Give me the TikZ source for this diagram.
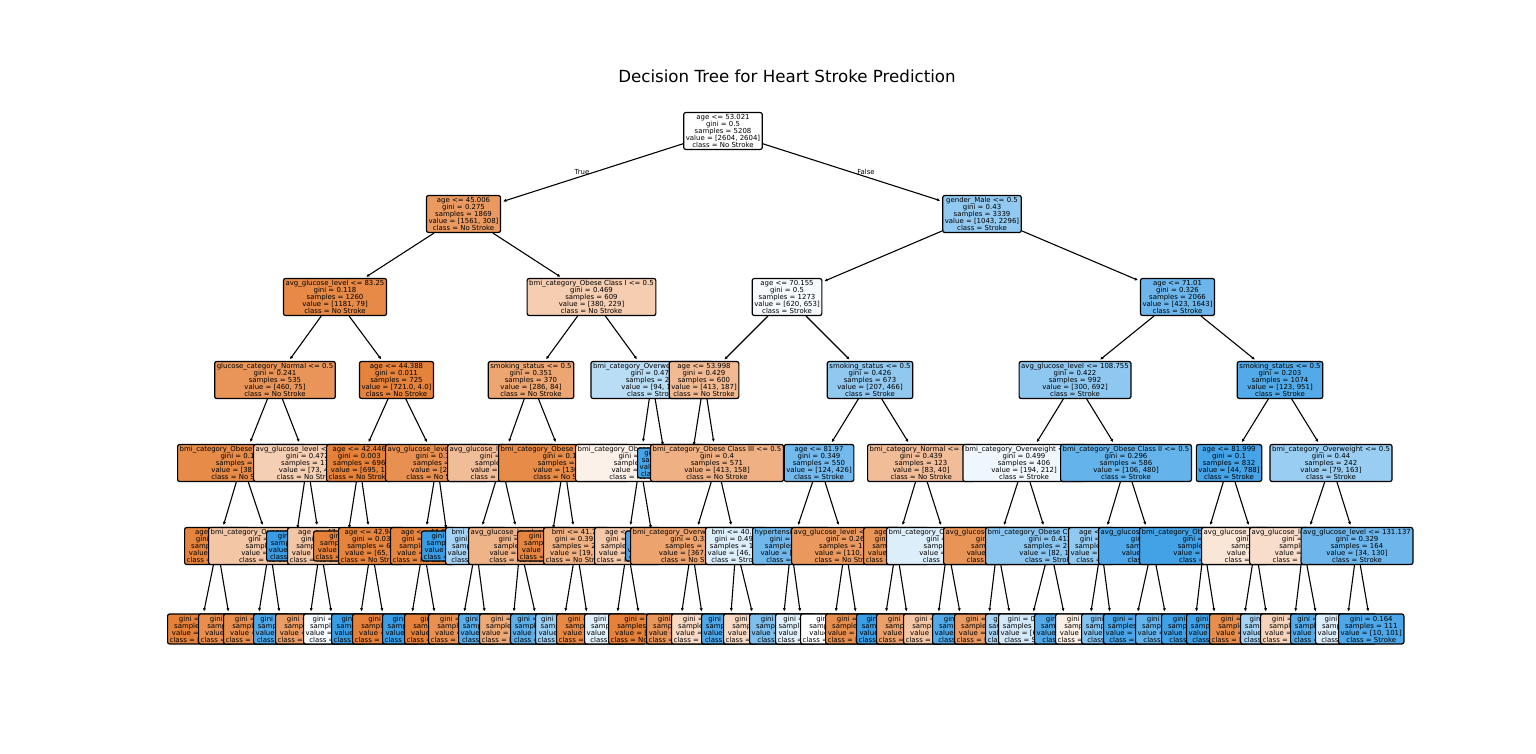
\documentclass[tikz,border=0pt]{standalone}
\usepackage{fontspec}
\setmainfont{DejaVu Sans}
\usetikzlibrary{arrows.meta}
\definecolor{cO}{RGB}{229,129,57}
\definecolor{cB}{RGB}{57,157,229}
% #1 name, #2 anchor, #3 x, #4 y, #5 fill, #6 text, #7 parent
\newcommand\TN[7]{\node[tn,fill=#5,anchor=#2] (#1) at (#3,#4) {#6}; \draw[arr] (#7) -- (#1);}
\begin{document}
\begin{tikzpicture}[x=1pt,y=-1pt,
  tn/.style={draw=black, line width=1.2pt, rounded corners=2pt, align=center,
    inner xsep=2.1pt, inner ysep=1.8pt, font=\fontsize{6.94}{7}\selectfont, text=black},
  arr/.style={line width=1.1pt, -{Latex[length=3.2pt,width=3.2pt]}, shorten >=2pt},
  lab/.style={font=\fontsize{6.94}{7}\selectfont, inner sep=0pt}]
\useasboundingbox[fill=white] (0,0) rectangle (1536,754);
\node[font=\fontsize{16.67}{20}\selectfont] (title) at (787,76) {Decision Tree for Heart Stroke Prediction};
% level 0
\node[tn,fill=white] (R) at (723,131) {age <= 53.021\\gini = 0.5\\samples = 5208\\value = [2604, 2604]\\class = No Stroke};
\node[lab] (tT) at (582,172) {True};
\node[lab] (tF) at (866,172) {False};
% ---- left subtree
\TN{A}{center}{463.5}{214}{cO!80}{age <= 45.006\\gini = 0.275\\samples = 1869\\value = [1561, 308]\\class = No Stroke}{R}
\TN{C1}{center}{335}{297}{cO!93}{avg\_glucose\_level <= 83.25\\gini = 0.118\\samples = 1260\\value = [1181, 79]\\class = No Stroke}{A}
\TN{D1}{center}{275}{380}{cO!84}{glucose\_category\_Normal <= 0.5\\gini = 0.241\\samples = 535\\value = [460, 75]\\class = No Stroke}{C1}
\TN{E1}{west}{177}{463}{cO!92}{bmi\_category\_Obese Class I <= 0.5\\gini = 0.134\\samples = 417\\value = [387, 30]\\class = No Stroke}{D1}
\TN{F1}{west}{184}{546}{cO!98}{age <= 38.5\\gini = 0.029\\samples = 342\\value = [337, 5]\\class = No Stroke}{E1}
\TN{G1}{west}{167}{629}{cO}{gini = 0.007\\samples = 301\\value = [300, 1]\\class = No Stroke}{F1}
\TN{G2}{west}{198}{629}{cO!89}{gini = 0.176\\samples = 41\\value = [37, 4]\\class = No Stroke}{F1}
\TN{F2}{west}{208}{546}{cO!45}{bmi\_category\_Overweight <= 0.5\\gini = 0.444\\samples = 75\\value = [50, 25]\\class = No Stroke}{E1}
\TN{G3}{west}{223}{629}{cO!89}{gini = 0.171\\samples = 53\\value = [48, 5]\\class = No Stroke}{F2}
\TN{G4}{west}{253}{629}{cB!90}{gini = 0.165\\samples = 22\\value = [2, 20]\\class = Stroke}{F2}
\TN{E2}{west}{253}{463}{cO!38}{avg\_glucose\_level <= 127.81\\gini = 0.472\\samples = 118\\value = [73, 45]\\class = No Stroke}{D1}
\TN{F3}{west}{266}{546}{cB}{gini = 0.0\\samples = 20\\value = [0, 20]\\class = Stroke}{E2}
\TN{F4}{west}{287}{546}{cO!45}{age <= 47.5\\gini = 0.38\\samples = 98\\value = [73, 25]\\class = No Stroke}{E2}
\TN{G5}{west}{275}{629}{cO!78}{gini = 0.297\\samples = 77\\value = [63, 14]\\class = No Stroke}{F4}
\TN{G6}{west}{303}{629}{cB!5}{gini = 0.499\\samples = 21\\value = [10, 11]\\class = Stroke}{F4}
\TN{D2}{center}{396.5}{380}{cO!99}{age <= 44.388\\gini = 0.011\\samples = 725\\value = [721.0, 4.0]\\class = No Stroke}{C1}
\TN{E3}{west}{326}{463}{cO}{age <= 42.446\\gini = 0.003\\samples = 696\\value = [695, 1]\\class = No Stroke}{D2}
\TN{F5}{west}{313}{546}{cO}{gini = 0.0\\samples = 630\\value = [630, 0]\\class = No Stroke}{E3}
\TN{F6}{west}{338}{546}{cO!98}{age <= 42.945\\gini = 0.03\\samples = 66\\value = [65, 1]\\class = No Stroke}{E3}
\TN{G7}{west}{331}{629}{cB}{gini = 0.0\\samples = 1\\value = [0, 1]\\class = Stroke}{F6}
\TN{G8}{west}{352}{629}{cO}{gini = 0.0\\samples = 65\\value = [65, 0]\\class = No Stroke}{F6}
\TN{E4}{west}{385}{463}{cO!88}{avg\_glucose\_level <= 84.52\\gini = 0.185\\samples = 29\\value = [26, 3]\\class = No Stroke}{D2}
\TN{F7}{west}{390}{546}{cO!96}{age <= 44.0\\gini = 0.071\\samples = 27\\value = [26, 1]\\class = No Stroke}{E4}
\TN{G9}{west}{382}{629}{cB}{gini = 0.0\\samples = 1\\value = [0, 1]\\class = Stroke}{F7}
\TN{G10}{west}{404}{629}{cO}{gini = 0.0\\samples = 26\\value = [26, 0]\\class = No Stroke}{F7}
\TN{F8}{west}{421}{546}{cB}{gini = 0.0\\samples = 2\\value = [0, 2]\\class = Stroke}{E4}
\TN{C2}{center}{591.5}{297}{cO!40}{bmi\_category\_Obese Class I <= 0.5\\gini = 0.469\\samples = 609\\value = [380, 229]\\class = No Stroke}{A}
\TN{D3}{center}{531}{380}{cO!71}{smoking\_status <= 0.5\\gini = 0.351\\samples = 370\\value = [286, 84]\\class = No Stroke}{C2}
\TN{E5}{west}{447}{463}{cO!52}{avg\_glucose\_level <= 103.45\\gini = 0.437\\samples = 230\\value = [156, 74]\\class = No Stroke}{D3}
\TN{F9}{west}{445}{546}{cB!45}{bmi <= 33.15\\gini = 0.467\\samples = 54\\value = [20, 34]\\class = Stroke}{E5}
\TN{G11}{west}{428}{629}{cO!87}{gini = 0.208\\samples = 17\\value = [15, 2]\\class = No Stroke}{F9}
\TN{G12}{west}{458}{629}{cB!84}{gini = 0.234\\samples = 37\\value = [5, 32]\\class = Stroke}{F9}
\TN{F10}{west}{468}{546}{cO!60}{avg\_glucose\_level <= 72.48\\gini = 0.351\\samples = 176\\value = [136, 40]\\class = No Stroke}{E5}
\TN{G13}{west}{479}{629}{cO!68}{gini = 0.271\\samples = 155\\value = [130, 25]\\class = No Stroke}{F10}
\TN{G14}{west}{510}{629}{cB!82}{gini = 0.408\\samples = 21\\value = [6, 15]\\class = Stroke}{F10}
\TN{E6}{west}{498}{463}{cO!92}{bmi\_category\_Obese Class II <= 0.5\\gini = 0.133\\samples = 140\\value = [130, 10]\\class = No Stroke}{D3}
\TN{F11}{west}{517}{546}{cO!97}{gini = 0.052\\samples = 114\\value = [111, 3]\\class = No Stroke}{E6}
\TN{F12}{west}{543}{546}{cO!63}{bmi <= 41.75\\gini = 0.393\\samples = 26\\value = [19, 7]\\class = No Stroke}{E6}
\TN{G15}{west}{535}{629}{cB!50}{gini = 0.444\\samples = 9\\value = [3, 6]\\class = Stroke}{F12}
\TN{G16}{west}{556}{629}{cO!94}{gini = 0.111\\samples = 17\\value = [16, 1]\\class = No Stroke}{F12}
\TN{D4}{center}{652}{380}{cB!35}{bmi\_category\_Overweight <= 0.5\\gini = 0.477\\samples = 239\\value = [94, 145]\\class = Stroke}{C2}
\TN{E7}{west}{575}{463}{cO!11}{bmi\_category\_Obese Class I <= 0.5\\gini = 0.498\\samples = 170\\value = [90, 80]\\class = No Stroke}{D4}
\TN{F13}{west}{594}{546}{cO!43}{age <= 49.5\\gini = 0.462\\samples = 138\\value = [88, 50]\\class = No Stroke}{E7}
\TN{G17}{west}{584}{629}{cB!15}{gini = 0.469\\samples = 80\\value = [30, 50]\\class = Stroke}{F13}
\TN{G18}{west}{608}{629}{cO}{gini = 0.0\\samples = 58\\value = [58, 0]\\class = No Stroke}{F13}
\TN{F14}{west}{625}{546}{cB!93}{gini = 0.117\\samples = 32\\value = [2, 30]\\class = Stroke}{E7}
\TN{E8}{west}{637}{463}{cB!94}{gini = 0.109\\samples = 69\\value = [4, 65]\\class = Stroke}{D4}
% ---- right subtree
\TN{B}{center}{982}{214}{cB!55}{gender\_Male <= 0.5\\gini = 0.43\\samples = 3339\\value = [1043, 2296]\\class = Stroke}{R}
\TN{C3}{center}{787}{297}{cB!5}{age <= 70.155\\gini = 0.5\\samples = 1273\\value = [620, 653]\\class = Stroke}{B}
\TN{D5}{center}{704}{380}{cO!55}{age <= 53.998\\gini = 0.429\\samples = 600\\value = [413, 187]\\class = No Stroke}{C3}
\TN{E9}{center}{691}{463}{cB}{gini = 0.0\\samples = 29\\value = [0, 29]\\class = Stroke}{D5}
\TN{E10}{center}{717}{463}{cO!62}{bmi\_category\_Obese Class III <= 0.5\\gini = 0.4\\samples = 571\\value = [413, 158]\\class = No Stroke}{D5}
\TN{F15}{west}{630}{546}{cO!73}{bmi\_category\_Overweight <= 0.5\\gini = 0.336\\samples = 467\\value = [367, 100]\\class = No Stroke}{E10}
\TN{G19}{west}{646}{629}{cO!83}{gini = 0.245\\samples = 350\\value = [300, 50]\\class = No Stroke}{F15}
\TN{G20}{west}{671}{629}{cO!30}{gini = 0.489\\samples = 117\\value = [67, 50]\\class = No Stroke}{F15}
\TN{F16}{west}{705}{546}{cB!17}{bmi <= 40.05\\gini = 0.493\\samples = 104\\value = [46, 58]\\class = Stroke}{E10}
\TN{G21}{west}{701}{629}{cB!90}{gini = 0.198\\samples = 45\\value = [5, 40]\\class = Stroke}{F16}
\TN{G22}{west}{723}{629}{cO!30}{gini = 0.424\\samples = 59\\value = [41, 18]\\class = No Stroke}{F16}
\TN{D6}{center}{870}{380}{cB!56}{smoking\_status <= 0.5\\gini = 0.426\\samples = 673\\value = [207, 466]\\class = Stroke}{C3}
\TN{E11}{center}{819}{463}{cB!71}{age <= 81.97\\gini = 0.349\\samples = 550\\value = [124, 426]\\class = Stroke}{D6}
\TN{F17}{west}{752}{546}{cB!72}{hypertension <= 0.5\\gini = 0.064\\samples = 420\\value = [14, 406]\\class = Stroke}{E11}
\TN{G23}{west}{749}{629}{cB!65}{gini = 0.355\\samples = 130\\value = [30, 100]\\class = Stroke}{F17}
\TN{G24}{west}{775}{629}{cB!15}{gini = 0.48\\samples = 10\\value = [4, 6]\\class = Stroke}{F17}
\TN{F18}{west}{791}{546}{cO!82}{avg\_glucose\_level <= 146.73\\gini = 0.26\\samples = 130\\value = [110, 20]\\class = No Stroke}{E11}
\TN{G25}{west}{800}{629}{white}{gini = 0.5\\samples = 16\\value = [8, 8]\\class = No Stroke}{F18}
\TN{G26}{west}{825}{629}{cO!90}{gini = 0.188\\samples = 114\\value = [102, 12]\\class = No Stroke}{F18}
\TN{E12}{west}{867}{463}{cO!52}{bmi\_category\_Normal <= 0.5\\gini = 0.439\\samples = 123\\value = [83, 40]\\class = No Stroke}{D6}
\TN{F19}{west}{863}{546}{cO!85}{age <= 62.5\\gini = 0.252\\samples = 68\\value = [58, 10]\\class = No Stroke}{E12}
\TN{G27}{west}{856}{629}{cB}{gini = 0.0\\samples = 5\\value = [0, 5]\\class = Stroke}{F19}
\TN{G28}{west}{876}{629}{cO!75}{gini = 0.147\\samples = 63\\value = [58, 5]\\class = No Stroke}{F19}
\TN{F20}{west}{886}{546}{cB!17}{bmi\_category\_Overweight <= 0.5\\gini = 0.496\\samples = 55\\value = [25, 30]\\class = Stroke}{E12}
\TN{G29}{west}{903}{629}{cO!45}{gini = 0.454\\samples = 23\\value = [15, 8]\\class = No Stroke}{F20}
\TN{G30}{west}{932}{629}{cB!88}{gini = 0.43\\samples = 32\\value = [10, 22]\\class = Stroke}{F20}
\TN{C4}{center}{1177.5}{297}{cB!74}{age <= 71.01\\gini = 0.326\\samples = 2066\\value = [423, 1643]\\class = Stroke}{B}
\TN{D7}{center}{1075}{380}{cB!57}{avg\_glucose\_level <= 108.755\\gini = 0.422\\samples = 992\\value = [300, 692]\\class = Stroke}{C4}
\TN{E13}{center}{1024}{463}{cB!8}{bmi\_category\_Overweight <= 0.5\\gini = 0.499\\samples = 406\\value = [194, 212]\\class = Stroke}{D7}
\TN{F21}{west}{943}{546}{cO!85}{avg\_glucose\_level <= 100.32\\gini = 0.187\\samples = 125\\value = [112, 13]\\class = No Stroke}{E13}
\TN{G31}{west}{954}{629}{cO!80}{gini = 0.083\\samples = 115\\value = [110, 5]\\class = No Stroke}{F21}
\TN{G32}{west}{985}{629}{cB!45}{gini = 0.32\\samples = 10\\value = [2, 8]\\class = Stroke}{F21}
\TN{F22}{west}{985}{546}{cB!59}{bmi\_category\_Obese Class I <= 0.5\\gini = 0.413\\samples = 281\\value = [82, 199]\\class = Stroke}{E13}
\TN{G33}{west}{998}{629}{cB!22}{gini = 0.494\\samples = 135\\value = [60, 75]\\class = Stroke}{F22}
\TN{G34}{west}{1034}{629}{cB!88}{gini = 0.256\\samples = 146\\value = [22, 124]\\class = Stroke}{F22}
\TN{E14}{center}{1126}{463}{cB!78}{bmi\_category\_Obese Class II <= 0.5\\gini = 0.296\\samples = 586\\value = [106, 480]\\class = Stroke}{D7}
\TN{F23}{west}{1068}{546}{cB!55}{age <= 75.5\\gini = 0.455\\samples = 200\\value = [70, 130]\\class = Stroke}{E14}
\TN{G35}{west}{1055}{629}{cO!13}{gini = 0.498\\samples = 75\\value = [40, 35]\\class = No Stroke}{F23}
\TN{G36}{west}{1081}{629}{cB!62}{gini = 0.365\\samples = 125\\value = [30, 95]\\class = Stroke}{F23}
\TN{F24}{west}{1098}{546}{cB!90}{avg\_glucose\_level <= 144.15\\gini = 0.169\\samples = 386\\value = [36, 350]\\class = Stroke}{E14}
\TN{G37}{west}{1103}{629}{cB!92}{gini = 0.074\\samples = 156\\value = [6, 150]\\class = Stroke}{F24}
\TN{G38}{west}{1135}{629}{cB!78}{gini = 0.227\\samples = 230\\value = [30, 200]\\class = Stroke}{F24}
\TN{D8}{center}{1280}{380}{cB!87}{smoking\_status <= 0.5\\gini = 0.203\\samples = 1074\\value = [123, 951]\\class = Stroke}{C4}
\TN{E15}{center}{1229}{463}{cB!94}{age <= 81.999\\gini = 0.1\\samples = 832\\value = [44, 788]\\class = Stroke}{D8}
\TN{F25}{west}{1139}{546}{cB!95}{bmi\_category\_Obese Class I <= 0.5\\gini = 0.049\\samples = 790\\value = [20, 770]\\class = Stroke}{E15}
\TN{G39}{west}{1161}{629}{cB!96}{gini = 0.038\\samples = 510\\value = [10, 500]\\class = Stroke}{F25}
\TN{G40}{west}{1186}{629}{cB!96}{gini = 0.007\\samples = 271\\value = [1, 270]\\class = Stroke}{F25}
\TN{F26}{west}{1201}{546}{cO!20}{avg\_glucose\_level <= 118.26\\gini = 0.49\\samples = 42\\value = [24, 18]\\class = No Stroke}{E15}
\TN{G41}{west}{1209}{629}{cO!90}{gini = 0.165\\samples = 22\\value = [20, 2]\\class = No Stroke}{F26}
\TN{G42}{west}{1240}{629}{cB!45}{gini = 0.32\\samples = 20\\value = [4, 16]\\class = Stroke}{F26}
\TN{E16}{center}{1331}{463}{cB!51}{bmi\_category\_Overweight <= 0.5\\gini = 0.44\\samples = 242\\value = [79, 163]\\class = Stroke}{D8}
\TN{F27}{west}{1249}{546}{cO!27}{avg\_glucose\_level <= 129.85\\gini = 0.488\\samples = 78\\value = [45, 33]\\class = No Stroke}{E16}
\TN{G43}{west}{1260}{629}{cO!35}{gini = 0.444\\samples = 60\\value = [40, 20]\\class = No Stroke}{F27}
\TN{G44}{west}{1290}{629}{cB!86}{gini = 0.401\\samples = 18\\value = [5, 13]\\class = Stroke}{F27}
\TN{F28}{center}{1357}{546}{cB!74}{avg\_glucose\_level <= 131.137\\gini = 0.329\\samples = 164\\value = [34, 130]\\class = Stroke}{E16}
\TN{G45}{west}{1315}{629}{cB!17}{gini = 0.496\\samples = 53\\value = [24, 29]\\class = Stroke}{F28}
\TN{G46}{west}{1338}{629}{cB!90}{gini = 0.164\\samples = 111\\value = [10, 101]\\class = Stroke}{F28}
\end{tikzpicture}
\end{document}
